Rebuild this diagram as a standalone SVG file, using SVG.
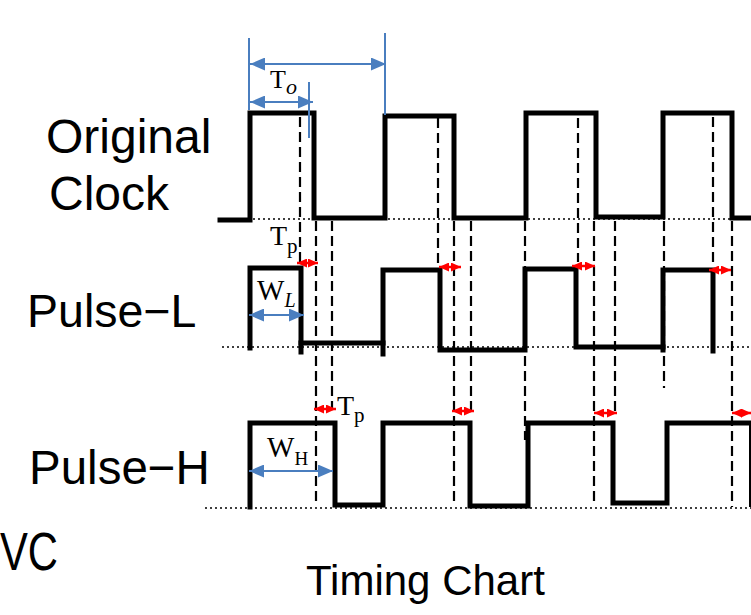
<svg xmlns="http://www.w3.org/2000/svg" width="751" height="615" viewBox="0 0 751 615">
<style>
.wave{fill:none;stroke:#000;stroke-width:5;stroke-linejoin:miter;stroke-linecap:square}
.base{fill:none;stroke:#000;stroke-width:1.6;stroke-dasharray:2 3}
.dash{fill:none;stroke:#000;stroke-width:2.2;stroke-dasharray:10 5}
.blue{fill:none;stroke:#4a7ebf;stroke-width:2}
.red{fill:none;stroke:#ff0000;stroke-width:2.5}
.lbl{font-family:"Liberation Sans",Arial,sans-serif;fill:#000}
.sym{font-family:"Liberation Serif","Times New Roman",serif;fill:#000}
</style>
<defs>
<marker id="bh" viewBox="0 0 15 13" refX="15" refY="6.5" markerWidth="15" markerHeight="13" markerUnits="userSpaceOnUse" orient="auto-start-reverse"><path d="M0,0 L15,6.5 L0,13 z" fill="#4a7ebf"/></marker>
<marker id="rh" viewBox="0 0 10 9" refX="10" refY="4.5" markerWidth="10" markerHeight="9" markerUnits="userSpaceOnUse" orient="auto-start-reverse"><path d="M0,0 L10,4.5 L0,9 z" fill="#ff0000"/></marker>
</defs>
<rect width="751" height="615" fill="#fff"/>

<g id="labels">
<text class="lbl" x="46" y="153" font-size="48">Original</text>
<text class="lbl" x="49" y="210" font-size="48">Clock</text>
<text class="lbl" x="27" y="327" font-size="46.5">Pulse−L</text>
<text class="lbl" x="29" y="484" font-size="47.5">Pulse−H</text>
<text class="lbl" x="0" y="570" font-size="54" textLength="58" lengthAdjust="spacingAndGlyphs">VC</text>
<text class="lbl" x="306" y="595" font-size="42">Timing Chart</text>
</g>

<g id="original-clock">
<line class="base" x1="253" y1="219" x2="751" y2="219"/>
<polyline class="wave" points="220,220 250,220 250,113 314,113 314,218 385,218 385,116 454,116 454,218 526,218 526,113 596,113 596,217 663,217 663,113 732,113 732,218 751,218"/>
</g>

<g id="pulse-l">
<line class="base" x1="222" y1="347" x2="751" y2="347"/>
<polyline class="wave" points="250,348 250,268 301,268 301,352"/>
<polyline class="wave" points="301,343 383,343"/>
<polyline class="wave" points="383,354 383,270 440,270 440,350 525,350 525,269 576,269 576,347 663,347"/>
<polyline class="wave" points="663,350 663,270 713,270 713,351"/>
</g>

<g id="pulse-h">
<line class="base" x1="205" y1="508" x2="751" y2="508"/>
<polyline class="wave" points="250,507 250,423 335,423 335,505 383,505 383,423 470,423 470,506 528,506 528,423 613,423 613,503 667,503 667,423 751,423"/>
<line x1="750" y1="423" x2="750" y2="507" stroke="#000" stroke-width="2"/>
</g>

<g id="connectors">
<line class="dash" x1="300" y1="117" x2="300" y2="265"/>
<line class="dash" x1="438" y1="118" x2="438" y2="268"/>
<line class="dash" x1="578" y1="118" x2="578" y2="262"/>
<line class="dash" x1="713" y1="117" x2="713" y2="262"/>
<line class="dash" x1="316" y1="221" x2="316" y2="505"/>
<line class="dash" x1="332" y1="221" x2="332" y2="410"/>
<line class="dash" x1="454" y1="221" x2="454" y2="505"/>
<line class="dash" x1="471" y1="221" x2="471" y2="410"/>
<line class="dash" x1="525" y1="221" x2="525" y2="440"/>
<line class="dash" x1="594" y1="221" x2="594" y2="505"/>
<line class="dash" x1="615" y1="221" x2="615" y2="412"/>
<line class="dash" x1="664" y1="221" x2="664" y2="388"/>
<line class="dash" x1="732" y1="221" x2="732" y2="507"/>

<line class="blue" x1="249" y1="38" x2="249" y2="110"/>
<line class="blue" x1="385" y1="33" x2="385" y2="115"/>
<line class="blue" x1="309" y1="82" x2="309" y2="138"/>
<line class="blue" x1="250" y1="64" x2="386" y2="64" marker-start="url(#bh)" marker-end="url(#bh)"/>
<line class="blue" x1="250" y1="102" x2="313" y2="102" marker-start="url(#bh)" marker-end="url(#bh)"/>
<line class="blue" x1="249" y1="315" x2="304" y2="315" marker-start="url(#bh)" marker-end="url(#bh)"/>
<line class="blue" x1="249" y1="471" x2="333" y2="471" marker-start="url(#bh)" marker-end="url(#bh)"/>

<line class="red" x1="297" y1="263" x2="318" y2="263" marker-start="url(#rh)" marker-end="url(#rh)"/>
<line class="red" x1="439" y1="267" x2="461" y2="267" marker-start="url(#rh)" marker-end="url(#rh)"/>
<line class="red" x1="572" y1="266" x2="595" y2="266" marker-start="url(#rh)" marker-end="url(#rh)"/>
<line class="red" x1="709" y1="270" x2="731" y2="270" marker-start="url(#rh)" marker-end="url(#rh)"/>
<line class="red" x1="314" y1="409" x2="336" y2="409" marker-start="url(#rh)" marker-end="url(#rh)"/>
<line class="red" x1="452" y1="411" x2="474" y2="411" marker-start="url(#rh)" marker-end="url(#rh)"/>
<line class="red" x1="594" y1="413" x2="617" y2="413" marker-start="url(#rh)" marker-end="url(#rh)"/>
<line class="red" x1="732" y1="413" x2="751" y2="413" marker-start="url(#rh)" marker-end="url(#rh)"/>
</g>

<g id="symbols">
<text class="sym" x="270" y="88" font-size="26">T<tspan font-style="italic" font-size="22" dy="6">o</tspan></text>
<text class="sym" x="270" y="245" font-size="28">T<tspan font-size="21" dy="8">p</tspan></text>
<text class="sym" x="257" y="300" font-size="29">W<tspan font-style="italic" font-size="20" dy="7">L</tspan></text>
<text class="sym" x="267" y="457" font-size="29">W<tspan font-size="19" dy="8">H</tspan></text>
<text class="sym" x="337" y="415" font-size="28">T<tspan font-size="21" dy="7">p</tspan></text>
</g>
</svg>
